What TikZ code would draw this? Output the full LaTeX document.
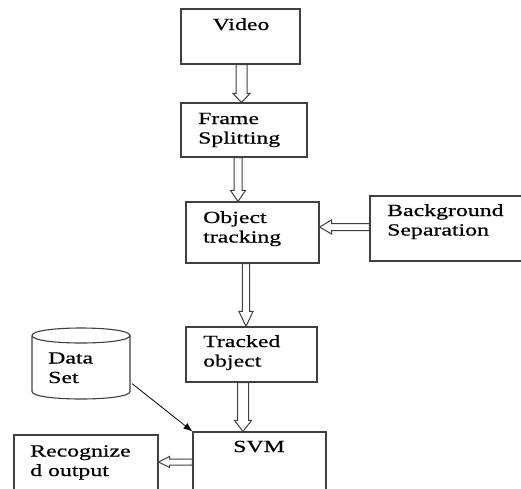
\documentclass[tikz,border=0pt]{standalone}
\usepackage{fontspec}
\setmainfont[FakeStretch=1.4,FakeBold=0.6]{Liberation Serif}
\usetikzlibrary{calc,arrows.meta}
\tikzset{
  box/.style={draw=black!75, line width=1.1pt, inner sep=0pt},
  lbl/.style={inner sep=0pt, align=left, font=\fontsize{17}{19.5}\selectfont},
  blockarrow/.style={draw=black!75, line width=1pt, fill=white, line join=miter},
  thinarrow/.style={draw=black, line width=0.8pt, -{Latex[length=9pt,width=7pt]}}
}
% down-pointing hollow block arrow: #1 start, #2 target anchor, #3 half shaft, #4 half head, #5 head length
\newcommand\blockdown[5]{%
  \coordinate (ba) at (#1);
  \coordinate (bb) at (ba |- #2);
  \draw[blockarrow] ($(ba)+(-#3,0)$) -- ($(bb)+(-#3,-#5)$) -- ($(bb)+(-#4,-#5)$) -- (bb)
     -- ($(bb)+(#4,-#5)$) -- ($(bb)+(#3,-#5)$) -- ($(ba)+(#3,0)$) -- cycle;}
% left-pointing hollow block arrow
\newcommand\blockleft[5]{%
  \coordinate (ba) at (#1);
  \coordinate (bb) at (ba -| #2);
  \draw[blockarrow] ($(ba)+(0,-#3)$) -- ($(bb)+(#5,-#3)$) -- ($(bb)+(#5,-#4)$) -- (bb)
     -- ($(bb)+(#5,#4)$) -- ($(bb)+(#5,#3)$) -- ($(ba)+(0,#3)$) -- cycle;}
\begin{document}
\begin{tikzpicture}[x=1pt,y=-1pt]
\useasboundingbox (0,0) rectangle (521,488);
\clip (0,0) rectangle (521,488);
\fill[white] (0,0) rectangle (521,488);

% boxes
\node[box, minimum width=119pt, minimum height=55pt] (video) at (240.5,36.5) {};
\node[box, minimum width=126pt, minimum height=54pt] (frame) at (244,130) {};
\node[box, minimum width=133pt, minimum height=61pt] (object) at (252.5,232.5) {};
\node[box, minimum width=160pt, minimum height=65pt] (bg) at (450,228.5) {};
\node[box, minimum width=131pt, minimum height=55pt] (tracked) at (251.5,354.5) {};
\node[box, minimum width=133pt, minimum height=68pt] (svm) at (259.5,466) {};
\node[box, minimum width=144pt, minimum height=65pt] (recog) at (86,467.5) {};

% data set cylinder
\node[inner sep=0pt, minimum width=98pt, minimum height=56pt] (dataset) at (81,363.5) {};
\draw[box] (32,335.5) -- (32,391.5) .. controls (32,401.5) and (130,401.5) .. (130,391.5) -- (130,335.5);
\draw[box] (32,335.5) .. controls (32,325.5) and (130,325.5) .. (130,335.5)
           .. controls (130,345.5) and (32,345.5) .. (32,335.5);

% texts (base anchor = baseline of the last line)
\node[lbl, anchor=base] (tvideo) at (241,30) {Video};
\node[lbl, anchor=base west] (tframe) at (198,143.5) {Frame\\Splitting};
\node[lbl, anchor=base west] (tobject) at (203,242.5) {Object\\tracking};
\node[lbl, anchor=base west] (tbg) at (387,235.5) {Background\\Separation};
\node[lbl, anchor=base west] (ttracked) at (203,366.5) {Tracked\\object};
\node[lbl, anchor=base] (tsvm) at (259,452) {SVM};
\node[lbl, anchor=base west] (tdata) at (48,383) {Data\\Set};
\node[lbl, anchor=base west] (trecog) at (30,476) {Recognize\\d output};

% connectors
\blockdown{$(video.south)+(1,0)$}{frame.north}{5.5}{8.5}{9}
\blockdown{$(frame.south)+(-6,0)$}{object.north}{4}{7.5}{11}
\blockdown{$(object.south)+(-6.5,0)$}{tracked.north}{3.7}{7}{15}
\blockdown{$(tracked.south)+(-8.5,0)$}{svm.north}{5.5}{8.5}{11}
\blockleft{$(bg.west)+(0,-1.5)$}{object.east}{3.5}{7}{12}
\blockleft{$(svm.west)+(0,-4)$}{recog.east}{3}{5.5}{11}
\draw[thinarrow] ($(dataset.south east)+(2,-8)$) -- (svm.north west);
\end{tikzpicture}
\end{document}
